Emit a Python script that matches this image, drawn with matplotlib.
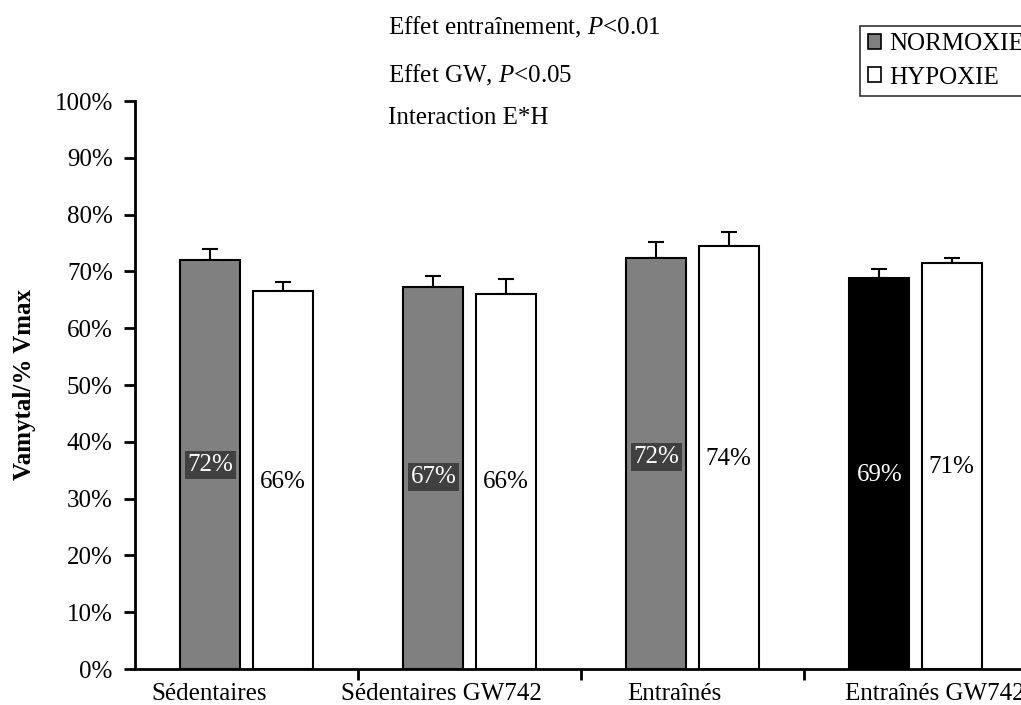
import numpy as np
import matplotlib
matplotlib.use("Agg")
import matplotlib.pyplot as plt
from matplotlib.patches import Patch

plt.rcParams['font.family'] = ['Liberation Serif', 'DejaVu Serif']
plt.rcParams['mathtext.fontset'] = 'custom'
plt.rcParams['mathtext.rm'] = 'Liberation Serif'
plt.rcParams['mathtext.it'] = 'Liberation Serif:italic'

# data
groups = ['Sédentaires', 'Sédentaires GW742', 'Entraînés', 'Entraînés GW742']
normoxie = [72.0, 67.3, 72.4, 68.8]
normoxie_err = [1.9, 1.9, 2.8, 1.6]
hypoxie = [66.5, 66.0, 74.5, 71.5]
hypoxie_err = [1.6, 2.6, 2.4, 0.9]
normoxie_labels = ['72%', '67%', '72%', '69%']
hypoxie_labels = ['66%', '66%', '74%', '71%']
normoxie_label_y = [35.9, 33.8, 37.3, 34.2]
hypoxie_label_y = [32.9, 32.9, 37.0, 35.6]
normoxie_colors = ['#808080', '#808080', '#808080', '#000000']

fs = 18

fig = plt.figure(figsize=(10.21, 7.05), dpi=100)
ax = fig.add_axes([135 / 1021, 36 / 705, 892 / 1021, 568 / 705])

x = np.arange(len(groups))
w = 0.27
off = 0.162
# category labels are not centred on the bar pairs in the original
label_shift = np.array([-0.168, -0.128, -0.083, 0.087])
label_pos = x + label_shift

ax.bar(x - off, normoxie, w, color=normoxie_colors, edgecolor='black', linewidth=1.5, zorder=2)
ax.bar(x + off, hypoxie, w, color='white', edgecolor='black', linewidth=1.5, zorder=2)
ax.errorbar(x - off, normoxie, yerr=[np.zeros(4), normoxie_err], fmt='none',
            ecolor='black', elinewidth=1.5, capsize=6, capthick=1.5, zorder=1)
ax.errorbar(x + off, hypoxie, yerr=[np.zeros(4), hypoxie_err], fmt='none',
            ecolor='black', elinewidth=1.5, capsize=6, capthick=1.5, zorder=1)

# value labels
for i in range(len(groups)):
    if normoxie_colors[i] == '#000000':
        ax.text(x[i] - off, normoxie_label_y[i], normoxie_labels[i], ha='center', va='center',
                color='white', fontsize=fs, zorder=3)
    else:
        ax.text(x[i] - off, normoxie_label_y[i], normoxie_labels[i], ha='center', va='center',
                color='white', fontsize=fs, zorder=3,
                bbox=dict(facecolor='#404040', edgecolor='none', pad=2))
    ax.text(x[i] + off, hypoxie_label_y[i], hypoxie_labels[i], ha='center', va='center',
            color='black', fontsize=fs, zorder=3)

ax.set_xlim(-0.5, 3.5)
ax.set_ylim(0, 100)
ax.set_yticks(np.arange(0, 101, 10))
ax.set_yticklabels([f'{v}%' for v in range(0, 101, 10)], fontsize=fs)
ax.set_xticks([0.5, 1.5, 2.5], minor=False)
ax.set_xticklabels([])
ax.set_xticks(label_pos, minor=True)
ax.set_xticklabels(groups, minor=True, fontsize=fs)
ax.tick_params(axis='x', which='minor', length=0, pad=10)
ax.tick_params(axis='x', which='major', length=8, width=2, direction='out')
ax.tick_params(axis='y', length=8, width=2, direction='out', pad=8)

for s in ['top', 'right']:
    ax.spines[s].set_visible(False)
for s in ['left', 'bottom']:
    ax.spines[s].set_linewidth(2)

ax.set_ylabel('Vamytal/% Vmax', fontsize=fs, fontweight='bold', labelpad=13)

# statistics text
fig.text(388 / 1021, 1 - 27 / 705, r'Effet entraînement, $\mathit{P}$<0.01', fontsize=fs, va='center')
fig.text(388 / 1021, 1 - 75 / 705, r'Effet GW, $\mathit{P}$<0.05', fontsize=fs, va='center')
fig.text(388 / 1021, 1 - 118 / 705, 'Interaction E*H', fontsize=fs, va='center')

handles = [Patch(facecolor='#808080', edgecolor='black', linewidth=1.2, label='NORMOXIE'),
           Patch(facecolor='white', edgecolor='black', linewidth=1.2, label='HYPOXIE')]
leg = fig.legend(handles=handles, loc='upper left', bbox_to_anchor=(860 / 1021, 1 - 26 / 705),
                 fontsize=fs, frameon=True, fancybox=False, edgecolor='black',
                 handlelength=0.55, handleheight=0.55, handletextpad=0.3, borderpad=0.3,
                 labelspacing=0.45, borderaxespad=0)
leg.get_frame().set_linewidth(1.2)

fig.savefig('out.png', dpi=100)
